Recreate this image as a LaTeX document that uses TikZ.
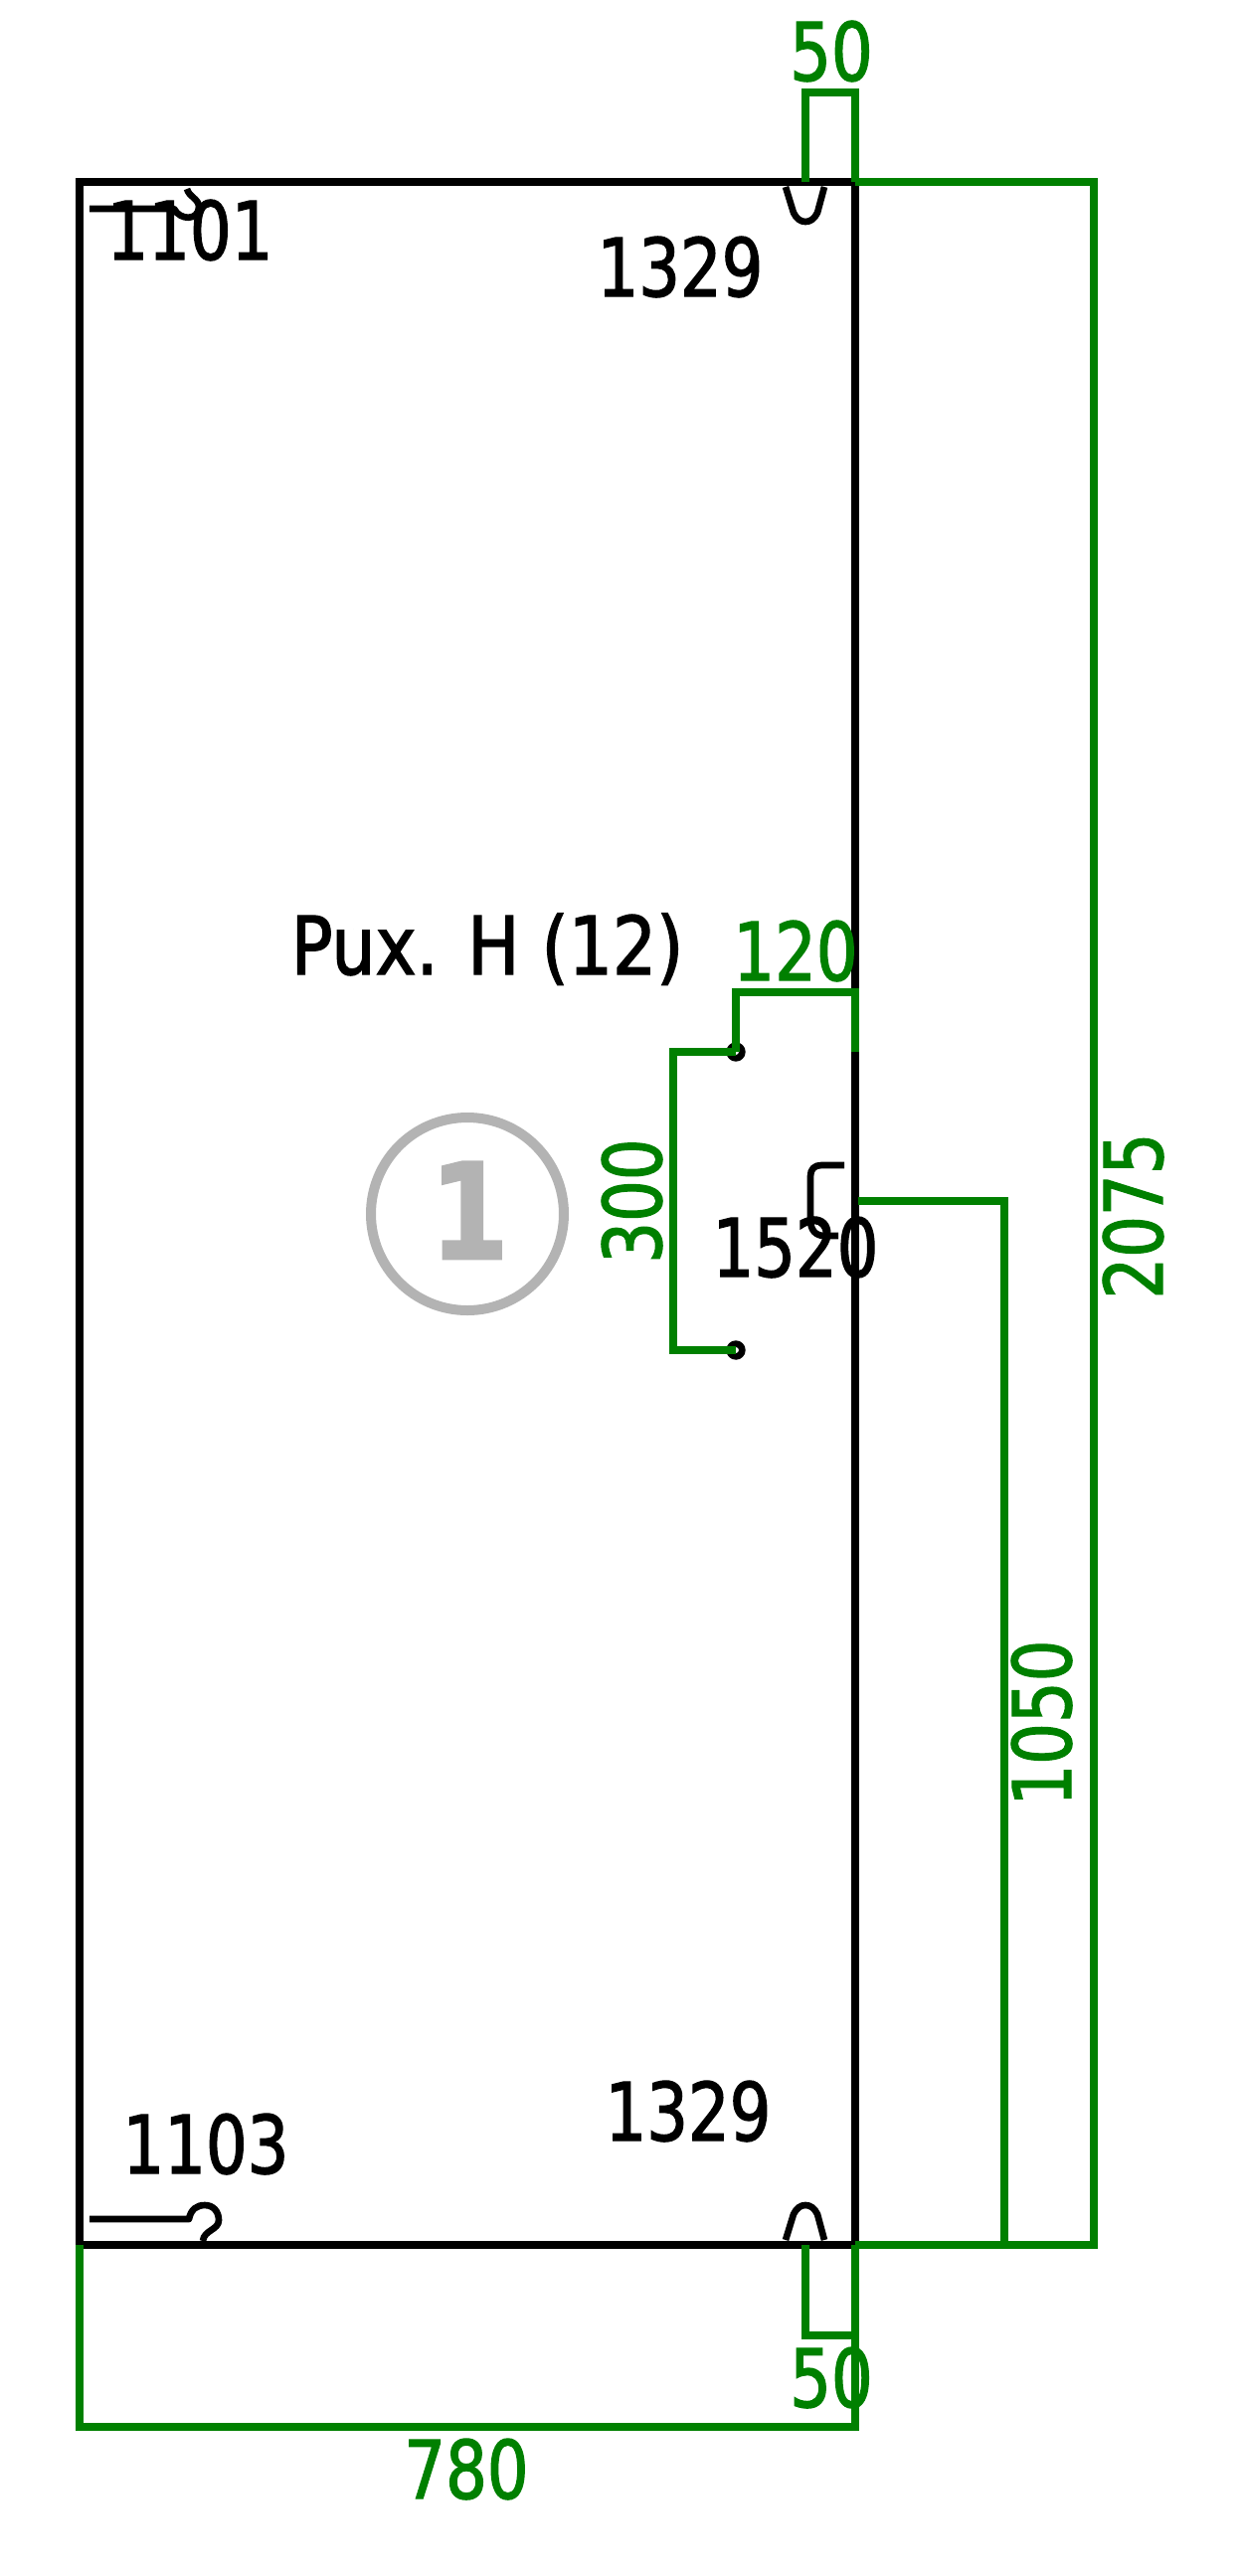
\documentclass[tikz,border=0pt]{standalone}
\usepackage{fontspec}
\usepackage{xcolor}
\setmainfont[FakeStretch=0.81,FakeBold=1.6]{DejaVu Sans}
\newfontfamily\markfont[FakeStretch=0.85,FakeBold=2]{DejaVu Sans Bold}
\definecolor{dimgreen}{RGB}{0,128,0}
\definecolor{markgray}{RGB}{179,179,179}
\usepackage{tikz}

\tikzset{
  partline/.style={draw=black,line width=5.3pt},
  fittingline/.style={draw=black,line width=5pt,line join=round},
  dimline/.style={draw=dimgreen,line width=5.3pt},
  holemark/.style={circle,draw=black,line width=5pt,minimum size=9.5pt,inner sep=0pt},
  partlabel/.style={anchor=base,inner sep=0pt,font=\fontsize{60.75}{70}\selectfont},
  dimlabel/.style={partlabel,text=dimgreen},
  dimlabelv/.style={dimlabel,rotate=90}
}

\begin{document}
\begin{tikzpicture}[x=0.75pt,y=0.75pt,yscale=-1,xscale=1]
\useasboundingbox (0,0) rectangle (1250,2591);

%Corners of the panel
\coordinate (topL) at (80,183);
\coordinate (topR) at (860,183);
\coordinate (botL) at (80,2258);
\coordinate (botR) at (860,2258);

%Panel
\draw [partline] (topL) -- (topR) -- (botR) -- (botL) -- cycle;

%Fittings
\draw [fittingline] (90,210) -- (175,210) .. controls (181,222) and (200,222) .. (200,208) .. controls (200,200) and (190,198) .. (188,190);
\draw [fittingline] (90,2232) -- (190,2232) .. controls (192,2222) and (198,2218) .. (206,2218) .. controls (215,2218) and (220,2225) .. (220,2233) .. controls (220,2243) and (205,2243) .. (204,2254);
\draw [fittingline] (790,188) -- (798,214) .. controls (801,220) and (805,223) .. (810,223) .. controls (815,223) and (819,220) .. (822,214) -- (829,188);
\draw [fittingline] (790,2253) -- (798,2227) .. controls (801,2221) and (805,2218) .. (810,2218) .. controls (815,2218) and (819,2221) .. (822,2227) -- (829,2253);
\draw [fittingline] (849,1172) -- (826,1172) .. controls (819,1172) and (815,1176) .. (815,1183) -- (815,1227) .. controls (815,1237) and (820,1243) .. (829,1243) -- (843,1243);

%Holes
\node [holemark] (holeA) at (740,1058) {};
\node [holemark] (holeB) at (740,1358) {};

%Part mark
\node [circle,draw=markgray,line width=7.5pt,minimum size=145.5pt,inner sep=0pt] (markRing) at (470,1221) {};
\node [anchor=base,inner sep=0pt,text=markgray,font=\fontsize{100}{110}\markfont] (markNum) at (472,1266) {1};

%Dimensions
\draw [dimline] (810,183) -- (810,93) -- (860,93) -- (topR);
\draw [dimline] (holeA.center) -- (740,998) -- (860,998) -- (860,1058);
\draw [dimline] (holeA.center) -- (677,1058) -- (677,1358) -- (holeB.center);
\draw [dimline] (863,1208) -- (1010,1208) -- (1010,2258);
\draw [dimline] (topR) -- (1100,183) -- (1100,2258) -- (botR);
\draw [dimline] (810,2258) -- (810,2349) -- (860,2349) -- (botR);
\draw [dimline] (botL) -- (80,2441) -- (860,2441) -- (botR);

% Text Node
\node [partlabel] (txtA) at (191,261) {1101};
\node [partlabel] (txtB) at (684,298) {1329};
\node [partlabel] (txtC) at (207,2186) {1103};
\node [partlabel] (txtD) at (692,2153) {1329};
\node [partlabel] (txtE) at (800,1284) {1520};
\node [partlabel,xscale=1.06] (txtF) at (490,980) {Pux. H (12)};
% Dimension Text Node
\node [dimlabel] (dimA) at (836,81) {50};
\node [dimlabel] (dimB) at (800,986) {120};
\node [dimlabel] (dimC) at (836,2421) {50};
\node [dimlabel] (dimD) at (469,2513) {780};
\node [dimlabelv] (dimE) at (665,1208) {300};
\node [dimlabelv] (dimF) at (1077,1733) {1050};
\node [dimlabelv] (dimG) at (1169,1223) {2075};

\end{tikzpicture}
\end{document}
